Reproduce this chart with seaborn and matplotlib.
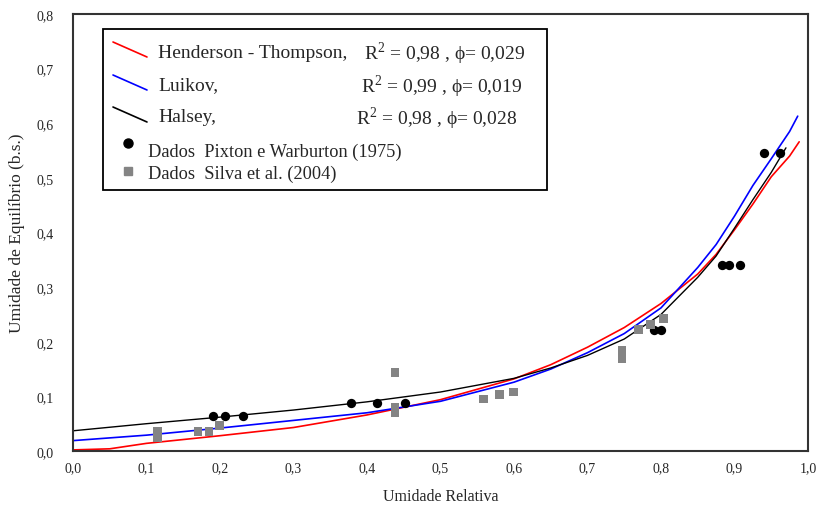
import numpy as np
import matplotlib
matplotlib.use("Agg")
import matplotlib.pyplot as plt
from matplotlib.patches import Rectangle
from matplotlib.lines import Line2D
import seaborn as sns

pixton_ur = [0.19, 0.207, 0.231, 0.378, 0.414, 0.452, 0.79, 0.80, 0.883, 0.893, 0.907, 0.940, 0.962]
pixton_ue = [0.064, 0.064, 0.064, 0.088, 0.088, 0.088, 0.222, 0.222, 0.341, 0.341, 0.341, 0.546, 0.546]

silva_ur = [0.115, 0.115, 0.17, 0.185, 0.199, 0.438, 0.438, 0.438, 0.559, 0.58, 0.599,
            0.747, 0.747, 0.769, 0.786, 0.803]
silva_ue = [0.025, 0.035, 0.035, 0.035, 0.046, 0.143, 0.07, 0.08, 0.095, 0.103, 0.108,
            0.17, 0.185, 0.223, 0.232, 0.242]

# Curvas dos modelos (valores lidos)
ht_ur = [0.0, 0.05, 0.1, 0.2, 0.3, 0.4, 0.5, 0.6, 0.65, 0.7, 0.75, 0.8, 0.85, 0.875, 0.9, 0.925, 0.95, 0.975, 0.988]
ht_ue = [0.002, 0.004, 0.014, 0.028, 0.043, 0.066, 0.094, 0.132, 0.158, 0.19, 0.226, 0.27, 0.324, 0.36, 0.405, 0.452, 0.502, 0.54, 0.566]

lui_ur = [0.0, 0.1, 0.2, 0.3, 0.4, 0.5, 0.6, 0.65, 0.7, 0.75, 0.8, 0.85, 0.875, 0.9, 0.925, 0.95, 0.975, 0.986]
lui_ue = [0.019, 0.029, 0.042, 0.056, 0.07, 0.091, 0.126, 0.15, 0.18, 0.215, 0.262, 0.336, 0.378, 0.43, 0.486, 0.535, 0.585, 0.613]

hal_ur = [0.0, 0.1, 0.2, 0.3, 0.4, 0.5, 0.6, 0.65, 0.7, 0.75, 0.8, 0.85, 0.875, 0.9, 0.925, 0.95, 0.97]
hal_ue = [0.037, 0.05, 0.062, 0.075, 0.09, 0.108, 0.133, 0.152, 0.175, 0.205, 0.25, 0.318, 0.357, 0.408, 0.46, 0.51, 0.555]

model_names = ["Henderson - Thompson,", "Luikov,", "Halsey,"]
model_stats = ["R$^2$ = 0,98 , ϕ= 0,029", "R$^2$ = 0,99 , ϕ= 0,019", "R$^2$ = 0,98 , ϕ= 0,028"]
data_names = ["Dados  Pixton e Warburton (1975)", "Dados  Silva et al. (2004)"]

sns.set_style("white")
plt.rcParams['font.family'] = ['Liberation Serif', 'DejaVu Serif']
plt.rcParams['mathtext.fontset'] = 'custom'
plt.rcParams['mathtext.rm'] = 'Liberation Serif'

W, H = 822, 510
fig = plt.figure(figsize=(W / 100, H / 100), dpi=100)
ax = fig.add_axes([73 / W, 1 - 452 / H, 735 / W, 437 / H])

sns.lineplot(x=ht_ur, y=ht_ue, color="red", lw=1.2, ax=ax)
sns.lineplot(x=lui_ur, y=lui_ue, color="blue", lw=1.2, ax=ax)
sns.lineplot(x=hal_ur, y=hal_ue, color="black", lw=1.0, ax=ax)
sns.scatterplot(x=pixton_ur, y=pixton_ue, color="black", marker="o", s=45,
                linewidth=0, ax=ax, zorder=3)
sns.scatterplot(x=silva_ur, y=silva_ue, color="#848484", marker="s", s=40,
                edgecolor="none", linewidth=0, ax=ax, zorder=3)

ax.set_xlim(0, 1.0)
ax.set_ylim(0, 0.8)
xt = np.round(np.arange(0, 1.01, 0.1), 1)
yt = np.round(np.arange(0, 0.81, 0.1), 1)
ax.set_xticks(xt)
ax.set_yticks(yt)
ax.set_xticklabels([f"{v:.1f}".replace(".", ",") for v in xt], fontsize=10)
ax.set_yticklabels([f"{v:.1f}".replace(".", ",") for v in yt], fontsize=10)
ax.tick_params(axis="both", length=0)
ax.tick_params(axis="x", pad=7)
ax.tick_params(axis="y", pad=14)
for s in ax.spines.values():
    s.set_color("#333333")
    s.set_linewidth(1.5)

ax.set_xlabel("Umidade Relativa", fontsize=11.5, labelpad=10)
ax.set_ylabel("Umidade de Equilíbrio (b.s.)", fontsize=12.5, labelpad=8)

# legenda desenhada a mao (posicoes em pixels da figura)
def px(x, y):
    return x / W, 1 - y / H

box = Rectangle(px(103, 191), 444 / W, 161 / H, transform=fig.transFigure,
                facecolor="white", edgecolor="black", lw=1.3, zorder=5)
fig.add_artist(box)

line_cols = ["red", "blue", "black"]
rows_y = [53, 86, 118]
stats_x = [364, 361, 356]
for col, name, stat, y, sx in zip(line_cols, model_names, model_stats, rows_y, stats_x):
    (x0, y0), (x1, y1) = px(113, y - 10), px(147, y + 5)
    fig.add_artist(Line2D([x0, x1], [y0, y1], transform=fig.transFigure,
                          color=col, lw=1.2, zorder=6))
    fig.text(*px(158, y), name, fontsize=14, va="center", ha="left", zorder=6)
    fig.text(*px(sx, y + 1), stat, fontsize=14, va="center", ha="left", zorder=6)

fig.add_artist(Line2D([px(128, 144)[0]], [px(128, 144)[1]], transform=fig.transFigure,
                      marker="o", markersize=6.5, color="black", lw=0, zorder=6))
fig.text(*px(148, 152), data_names[0], fontsize=13.2, va="center", ha="left", zorder=6)
fig.add_artist(Line2D([px(128, 172)[0]], [px(128, 172)[1]], transform=fig.transFigure,
                      marker="s", markersize=5.5, color="#848484", lw=0, zorder=6))
fig.text(*px(148, 174), data_names[1], fontsize=13.2, va="center", ha="left", zorder=6)

fig.savefig("out.png", dpi=100)
